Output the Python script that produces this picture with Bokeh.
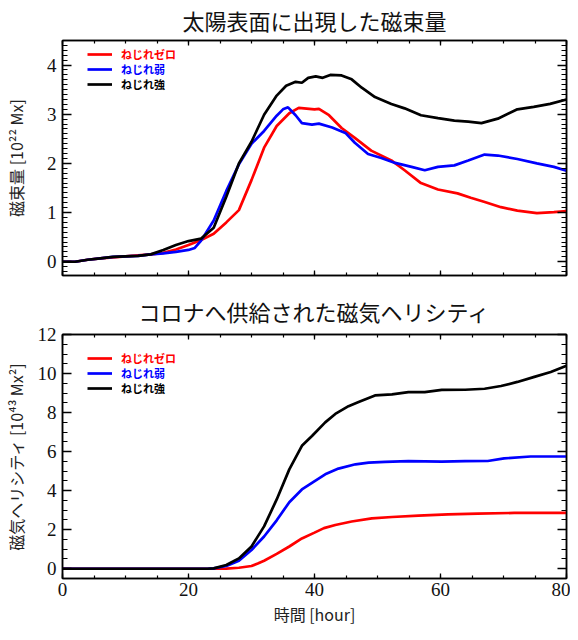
from bokeh.plotting import figure
from bokeh.models import (Range1d, SingleIntervalTicker, LinearAxis, Legend, LegendItem,
                          CustomLabelingPolicy)
from bokeh.layouts import column
from bokeh.embed import file_html
from bokeh.resources import INLINE

# ---------------- data: flux emerged at surface [1e22 Mx] ----------------
flux_zero_t = [0, 2, 4, 6, 8, 10, 12, 14, 16, 18, 20, 22, 24, 26, 28, 30, 32, 34, 36, 37.5,
               40, 40.7, 42.3, 44.3, 46.4, 49, 52.2, 54.3, 56.9, 59.6, 62.7, 64.8, 66.9,
               69.6, 72.2, 75.3, 78, 80]
flux_zero_v = [0, 0, 0.04, 0.07, 0.09, 0.11, 0.13, 0.15, 0.18, 0.25, 0.34, 0.44, 0.57, 0.80,
               1.05, 1.66, 2.32, 2.76, 3.02, 3.13, 3.10, 3.11, 2.98, 2.72, 2.52, 2.26, 2.06,
               1.86, 1.60, 1.47, 1.39, 1.30, 1.22, 1.11, 1.04, 0.99, 1.01, 1.03]

flux_weak_t = [0, 2, 4, 6, 8, 10, 12, 14, 16, 18, 20, 21, 22, 24, 26, 28, 30, 32, 34, 35,
               35.8, 37, 38, 39.6, 40.7, 42.8, 44.9, 46.4, 48.5, 50.6, 52.8, 55.4, 57.5,
               59.6, 62.2, 64.4, 67, 69.1, 72.2, 75.3, 78, 80]
flux_weak_v = [0, 0, 0.04, 0.07, 0.10, 0.11, 0.12, 0.15, 0.17, 0.20, 0.24, 0.28, 0.43, 0.84,
               1.44, 1.98, 2.40, 2.66, 2.97, 3.10, 3.14, 2.98, 2.82, 2.79, 2.81, 2.73, 2.62,
               2.42, 2.19, 2.11, 2.01, 1.93, 1.86, 1.93, 1.96, 2.06, 2.18, 2.16, 2.09, 2.00,
               1.93, 1.85]

flux_strong_t = [0, 2, 4, 6, 8, 10, 12, 14, 16, 18, 20, 22, 24, 26, 28, 30, 32, 34, 35.5, 37,
                 38, 39, 40.2, 41.3, 42.5, 44.3, 45.9, 47.5, 49.6, 52.2, 54.3, 56.9, 59.6,
                 62.2, 64.4, 66.5, 69.1, 72.2, 74.8, 77.4, 80]
flux_strong_v = [0, 0, 0.04, 0.07, 0.10, 0.11, 0.12, 0.15, 0.24, 0.34, 0.42, 0.47, 0.69, 1.32,
                 2.0, 2.44, 2.99, 3.38, 3.58, 3.66, 3.64, 3.74, 3.77, 3.74, 3.80, 3.79, 3.71,
                 3.54, 3.35, 3.21, 3.12, 2.98, 2.92, 2.87, 2.85, 2.82, 2.91, 3.10, 3.15, 3.21,
                 3.30]

# ---------------- data: helicity injected into corona [1e43 Mx^2] ----------------
hel_zero_t = [0, 10, 20, 24, 26, 28, 30, 31, 32, 34, 36, 38, 40, 41.5, 43.3, 45.9, 49.1,
              52.3, 56.5, 61.2, 65.9, 71.7, 80]
hel_zero_v = [0, 0, 0, 0, 0.01, 0.05, 0.14, 0.27, 0.41, 0.76, 1.14, 1.55, 1.85, 2.08, 2.24,
              2.42, 2.58, 2.65, 2.72, 2.79, 2.82, 2.86, 2.86]

hel_weak_t = [0, 10, 20, 23, 24, 26, 28, 30, 32, 34, 36, 38, 39.6, 41.7, 43.8, 46.5, 48.6,
              51.2, 54.9, 60.2, 63.9, 67.5, 70.1, 74.3, 80]
hel_weak_v = [0, 0, 0, 0, 0.02, 0.14, 0.41, 0.96, 1.65, 2.48, 3.41, 4.06, 4.40, 4.84, 5.13,
              5.35, 5.44, 5.47, 5.51, 5.49, 5.51, 5.52, 5.65, 5.75, 5.75]

hel_strong_t = [0, 10, 20, 23, 24, 26, 28, 30, 32, 34, 36, 38, 39.6, 41.7, 43.3, 45.4, 47,
                49.6, 52.3, 54.9, 57.5, 60.2, 63.9, 67, 69.6, 72.2, 74.9, 77.5, 80]
hel_strong_v = [0, 0, 0, 0, 0.02, 0.19, 0.53, 1.14, 2.17, 3.55, 5.09, 6.30, 6.80, 7.50, 7.93,
                8.33, 8.54, 8.88, 8.93, 9.05, 9.05, 9.16, 9.17, 9.22, 9.36, 9.57, 9.83, 10.08,
                10.40]

series_names = ["ねじれゼロ", "ねじれ弱", "ねじれ強"]
series_colors = ["#ff0000", "#0000ff", "#000000"]

top_title = "太陽表面に出現した磁束量"
bottom_title = "コロナへ供給された磁気ヘリシティ"
top_ylabel = "磁束量 [10²² Mx]"
bottom_ylabel = "磁気ヘリシティ [10⁴³ Mx²]"
xlabel = "時間 [hour]"

CJK = "Noto Sans CJK JP"
SERIF = "Liberation Serif, Times New Roman, serif"

NO_LABELS = CustomLabelingPolicy(code="""
    const all = [...indices]
    for (const i of all) indices.unset(i)
    return indices
""")


def style_axis(ax, major_in, minor_in, show_labels):
    ax.major_tick_in = major_in
    ax.major_tick_out = 0
    ax.minor_tick_in = minor_in
    ax.minor_tick_out = 0
    ax.axis_line_color = "black"
    ax.axis_line_width = 1.5
    ax.major_tick_line_color = "black"
    ax.major_tick_line_width = 1.3
    ax.minor_tick_line_color = "black"
    ax.minor_tick_line_width = 1.2
    if show_labels:
        ax.major_label_text_font = SERIF
        ax.major_label_text_font_size = "19px"
        ax.major_label_text_color = "#111111"
    else:
        ax.major_label_policy = NO_LABELS
        ax.major_label_text_font_size = "1px"
        ax.major_label_standoff = 0
    ax.axis_label_text_font = CJK
    ax.axis_label_text_font_size = "16px"
    ax.axis_label_text_font_style = "normal"
    ax.axis_label_text_color = "#222222"


def make_panel(title, ylabel, yr, y_int, y_minor, data, height, b_top, b_bottom,
               title_standoff, ylab_standoff, show_x, legend_y):
    p = figure(width=570, height=height, output_backend="svg", toolbar_location=None,
               x_range=Range1d(0, 80), y_range=Range1d(*yr),
               min_border_left=56, min_border_right=1, min_border_top=b_top,
               min_border_bottom=b_bottom)
    p.grid.visible = False
    p.outline_line_color = "black"
    p.outline_line_width = 1.5
    p.background_fill_color = "white"
    p.border_fill_color = "white"

    p.title.text = title
    p.title.align = "center"
    p.title.text_font = CJK
    p.title.text_font_size = "22px"
    p.title.text_font_style = "normal"
    p.title.text_color = "#111111"
    p.title.standoff = title_standoff

    xt = SingleIntervalTicker(interval=20, num_minor_ticks=4)
    yt = SingleIntervalTicker(interval=y_int, num_minor_ticks=y_minor)
    p.xaxis.ticker = xt
    p.yaxis.ticker = yt
    style_axis(p.xaxis[0], 5, 3, show_x)
    style_axis(p.yaxis[0], 9, 5, True)
    p.yaxis.axis_label = ylabel
    p.yaxis.axis_label_standoff = ylab_standoff
    p.yaxis.major_label_standoff = 6
    if show_x:
        p.xaxis.axis_label = xlabel
        p.xaxis.major_label_standoff = 4
        p.xaxis.axis_label_standoff = 3

    ax_top = LinearAxis(ticker=xt)
    style_axis(ax_top, 5, 3, False)
    p.add_layout(ax_top, "above")
    ax_right = LinearAxis(ticker=yt)
    style_axis(ax_right, 9, 5, False)
    p.add_layout(ax_right, "right")

    for i, (t, v) in enumerate(data):
        r = p.line(t, v, line_color=series_colors[i], line_width=2.7)
        lg = Legend(items=[LegendItem(label=series_names[i], renderers=[r])],
                    location=(25, legend_y - i * 14.8),
                    label_text_color=series_colors[i], label_text_font=CJK,
                    label_text_font_style="bold", label_text_font_size="11px",
                    glyph_width=25, glyph_height=14, label_height=14, label_standoff=9,
                    padding=0, margin=0, spacing=0, background_fill_alpha=0,
                    border_line_alpha=0)
        p.add_layout(lg)
    return p


p1 = make_panel(top_title, top_ylabel, (-0.28, 4.5), 1, 10,
                [(flux_zero_t, flux_zero_v), (flux_weak_t, flux_weak_v),
                 (flux_strong_t, flux_strong_v)],
                287, 30, 12, 2, 16, False, 213)
p2 = make_panel(bottom_title, bottom_ylabel, (-0.5, 12), 2, 4,
                [(hel_zero_t, hel_zero_v), (hel_weak_t, hel_weak_v),
                 (hel_strong_t, hel_strong_v)],
                343, 47, 52, 8, 7, True, 212)

layout = column(p1, p2, spacing=0)
open("out.html", "w").write(file_html(layout, INLINE))
